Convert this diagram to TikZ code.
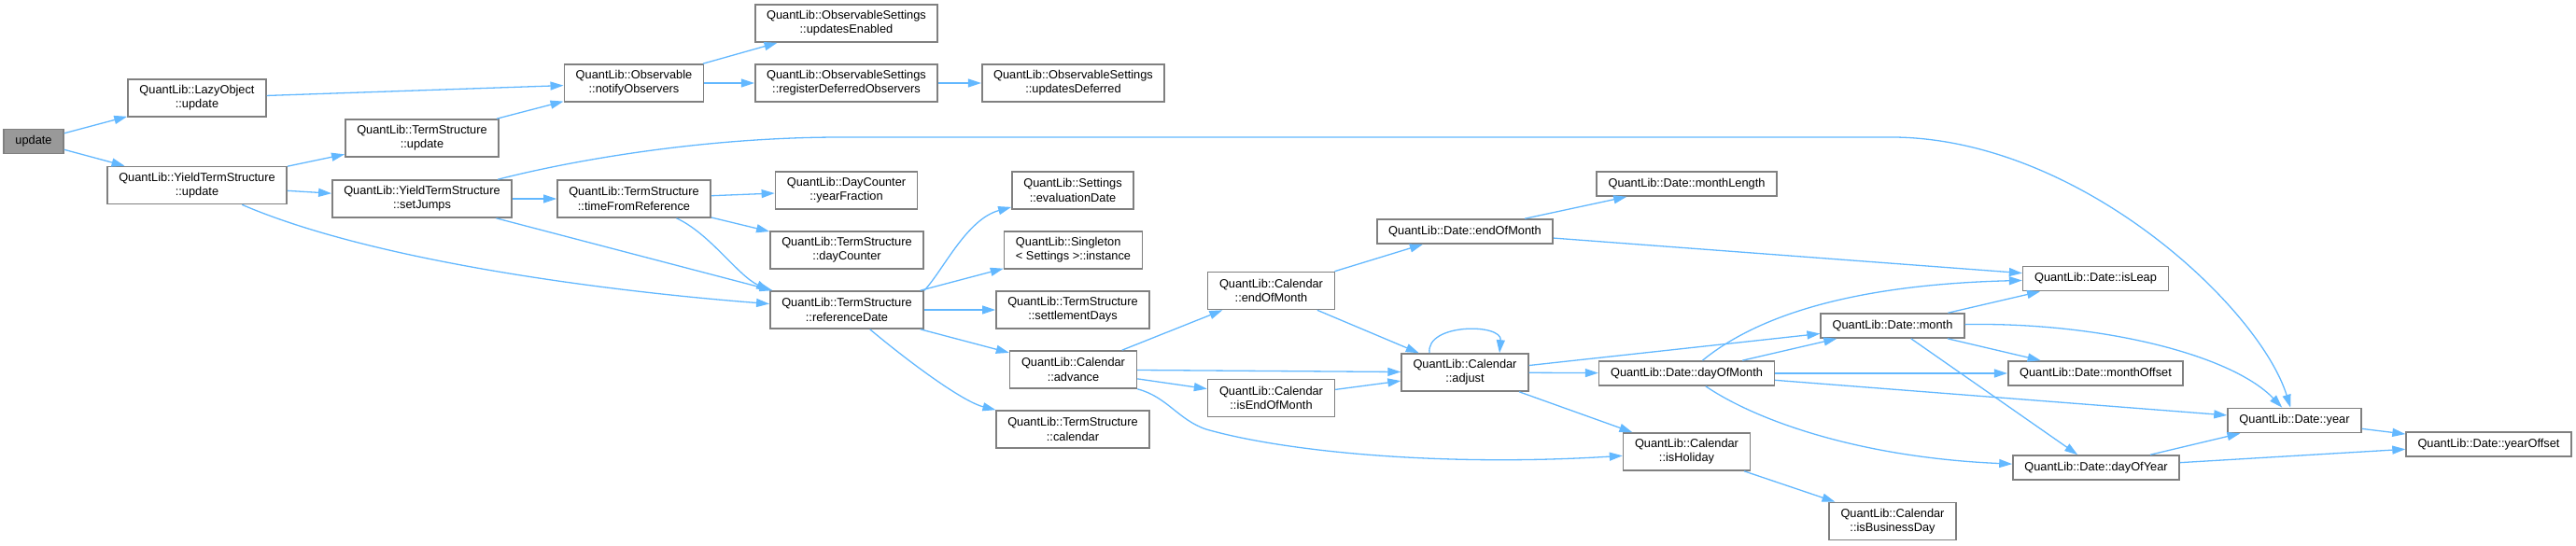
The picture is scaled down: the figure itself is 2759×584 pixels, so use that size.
\documentclass[tikz,border=0pt]{standalone}
\usepackage{fontspec}
\setmainfont{Liberation Sans}
\usepackage{tikz}
\usetikzlibrary{arrows.meta}
\definecolor{edgeblue}{HTML}{63B8FF}
\definecolor{boxgray}{HTML}{808080}
\definecolor{curgray}{HTML}{999999}
\tikzset{fn/.style={draw=boxgray, line width=0.8pt, fill=white, align=center, inner xsep=6.2pt, inner ysep=1pt, minimum height=20pt, font=\fontsize{6.4pt}{7.65pt}\selectfont},
  fnone/.style={fn, minimum height=13pt},
  call/.style={draw=edgeblue, line width=0.65pt, -{Triangle[length=7pt,width=4.5pt]}}}
\newcommand{\fcall}[2]{\draw[call] (#1) -- (#2);}

\begin{document}
\begin{tikzpicture}[x=0.5pt, y=-0.5pt]
\useasboundingbox (0,0) rectangle (2759,584);
\node[fnone, fill=curgray] (upd) at (36,151.5) {update};
\node[fn] (lazy) at (211,105) {QuantLib::LazyObject\\::update};
\node[fn] (ytsupd) at (211,198.5) {QuantLib::YieldTermStructure\\::update};
\node[fn] (tsupd) at (452,148) {QuantLib::TermStructure\\::update};
\node[fn] (setj) at (452,213) {QuantLib::YieldTermStructure\\::setJumps};
\node[fn] (notify) at (679,89) {QuantLib::Observable\\::notifyObservers};
\node[fn] (tfr) at (679,213) {QuantLib::TermStructure\\::timeFromReference};
\node[fn] (upden) at (906.5,25) {QuantLib::ObservableSettings\\::updatesEnabled};
\node[fn] (regdef) at (906.5,89) {QuantLib::ObservableSettings\\::registerDeferredObservers};
\node[fn] (updef) at (1149.5,89) {QuantLib::ObservableSettings\\::updatesDeferred};
\node[fn] (yfrac) at (906.5,204) {QuantLib::DayCounter\\::yearFraction};
\node[fn] (dayc) at (907,268) {QuantLib::TermStructure\\::dayCounter};
\node[fn] (refd) at (907,332) {QuantLib::TermStructure\\::referenceDate};
\node[fn] (evald) at (1149,204) {QuantLib::Settings\\::evaluationDate};
\node[fn, align=left] (inst) at (1149.5,268) {QuantLib::Singleton\\< Settings >::instance};
\node[fn] (settd) at (1149,332) {QuantLib::TermStructure\\::settlementDays};
\node[fn] (adv) at (1149.5,396) {QuantLib::Calendar\\::advance};
\node[fn] (tscal) at (1149,460) {QuantLib::TermStructure\\::calendar};
\node[fn] (ceom) at (1361.5,311.5) {QuantLib::Calendar\\::endOfMonth};
\node[fn] (iseom) at (1361.5,426.5) {QuantLib::Calendar\\::isEndOfMonth};
\node[fnone] (deom) at (1569,248) {QuantLib::Date::endOfMonth};
\node[fn] (adj) at (1569,399) {QuantLib::Calendar\\::adjust};
\node[fnone] (mlen) at (1806.5,197) {QuantLib::Date::monthLength};
\node[fnone] (dom) at (1806.5,400) {QuantLib::Date::dayOfMonth};
\node[fn] (hol) at (1806.5,484) {QuantLib::Calendar\\::isHoliday};
\node[fnone] (mon) at (2027,349) {QuantLib::Date::month};
\node[fn] (bday) at (2027,558.5) {QuantLib::Calendar\\::isBusinessDay};
\node[fnone] (leap) at (2244.5,298.5) {QuantLib::Date::isLeap};
\node[fnone] (moff) at (2244.5,400) {QuantLib::Date::monthOffset};
\node[fnone] (doy) at (2245,501) {QuantLib::Date::dayOfYear};
\node[fnone] (year) at (2457.5,450.5) {QuantLib::Date::year};
\node[fnone] (yoff) at (2665.5,476) {QuantLib::Date::yearOffset};
\fcall{upd}{lazy} \fcall{upd}{ytsupd} \fcall{lazy}{notify} \fcall{tsupd}{notify} \fcall{ytsupd}{tsupd} \fcall{ytsupd}{setj}
\fcall{notify}{upden} \fcall{notify}{regdef} \fcall{regdef}{updef}
\fcall{setj}{tfr} \fcall{setj}{refd} \fcall{tfr}{yfrac} \fcall{tfr}{dayc}
\fcall{refd}{inst} \fcall{refd}{settd} \fcall{refd}{adv}
\fcall{adv}{ceom} \fcall{adv}{adj} \fcall{adv}{iseom}
\fcall{ceom}{deom} \fcall{ceom}{adj} \fcall{iseom}{adj}
\fcall{adj}{mon} \fcall{adj}{dom} \fcall{adj}{hol}
\fcall{deom}{mlen} \fcall{deom}{leap}
\fcall{dom}{mon} \fcall{dom}{moff} \fcall{dom}{year}
\fcall{mon}{leap} \fcall{mon}{moff} \fcall{mon}{doy}
\fcall{hol}{bday} \fcall{doy}{year} \fcall{doy}{yoff} \fcall{year}{yoff}
\draw[call] (ytsupd) .. controls (400,280) and (650,312) .. (refd);
\draw[call] (setj) .. controls (620,170) and (760,147) .. (900,147) -- (2030,147) .. controls (2230,150) and (2420,330) .. (year);
\draw[call] (tfr) .. controls (760,250) and (790,295) .. (refd.north west);
\draw[call] (refd.north east) .. controls (1010,290) and (1035,235) .. (evald);
\draw[call] (refd) .. controls (970,385) and (1030,430) .. (tscal);
\draw[call] (adv.south east) .. controls (1250,425) and (1262,450) .. (1292,460) .. controls (1380,485) and (1550,500) .. (hol);
\draw[call] ([xshift=-19pt]adj.north) .. controls ([xshift=-21pt,yshift=16pt]adj.north) and ([xshift=20pt,yshift=16pt]adj.north) .. ([xshift=18.5pt]adj.north);
\draw[call] (dom) .. controls (1880,340) and (1980,305) .. (leap);
\draw[call] (dom) .. controls (1880,450) and (1990,490) .. (doy);
\draw[call] (mon) .. controls (2250,345) and (2390,380) .. (year);
\end{tikzpicture}
\end{document}
